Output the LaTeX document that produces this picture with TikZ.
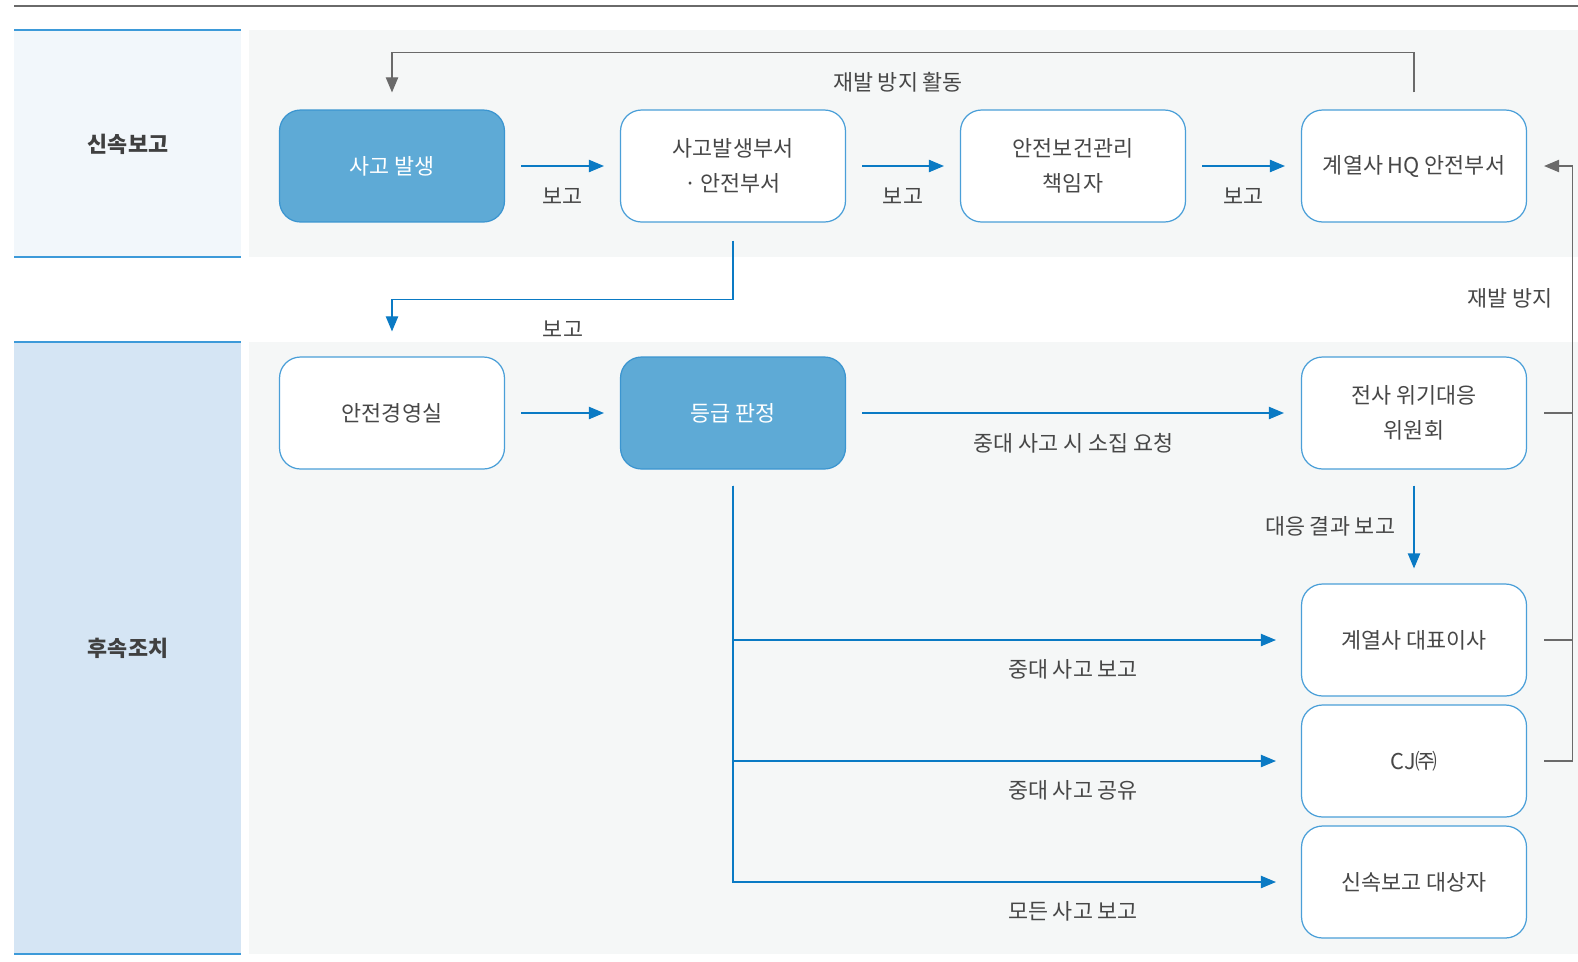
\documentclass[tikz,border=0pt]{standalone}
\usepackage{fontspec}
\setmainfont{Noto Sans CJK KR}
\usetikzlibrary{arrows.meta,positioning,calc}

\definecolor{lineblue}{HTML}{0A7AC4}
\definecolor{boxblue}{HTML}{4A9FD8}
\definecolor{fillblue}{HTML}{5EAAD6}
\definecolor{sideblue}{HTML}{3D9AD9}
\definecolor{txtgray}{HTML}{474747}
\definecolor{backgray}{HTML}{6A6A6A}
\definecolor{panelgray}{HTML}{F5F7F7}
\definecolor{toplabel}{HTML}{F2F7FB}
\definecolor{botlabel}{HTML}{D5E5F4}

\begin{document}
\begin{tikzpicture}[x=0.02cm, y=-0.02cm,
	every node/.style={font=\fontsize{12.4pt}{20pt}\selectfont, text=txtgray},
	box/.style={draw=boxblue, fill=white, line width=0.7pt, rounded corners=0.42cm, minimum width=4.5cm, minimum height=2.24cm, align=center, inner sep=0pt},
	hotbox/.style={box, fill=fillblue, draw=lineblue!80},
	flow/.style={draw=lineblue, line width=0.6pt, -{Triangle[length=8.5pt,width=7pt]}},
	back/.style={draw=backgray, line width=0.6pt},
	lbl/.style={yshift=-0.6cm}]
	\useasboundingbox (0,0) rectangle (1578,961);
	% panels
	\draw[backgray, line width=0.7pt] (14,6) -- (1578,6);
	\fill[toplabel] (14,30) rectangle (241,257);
	\fill[panelgray] (249,30) rectangle (1578,257);
	\fill[botlabel] (14,342) rectangle (241,954);
	\fill[panelgray] (249,342) rectangle (1578,954);
	\draw[sideblue, line width=0.8pt] (14,30) -- (241,30) (14,257) -- (241,257) (14,342) -- (241,342) (14,954) -- (241,954);
	\node[font=\fontsize{12.4pt}{14pt}\selectfont\bfseries, text=black!75] (fast) at (128,144) {신속보고};
	\node[font=\fontsize{12.4pt}{14pt}\selectfont\bfseries, text=black!75] (follow) at (128,648) {후속조치};

	% boxes
	\node[hotbox] (acc) at (392,166) {\textcolor{white}{사고 발생}};
	\node[box] (dept) at (733,166) {사고발생부서\\·\,안전부서};
	\node[box] (chief) at (1073,166) {안전보건관리\\책임자};
	\node[box] (hq) at (1414,166) {계열사 HQ 안전부서};
	\node[box] (safe) at (392,413) {안전경영실};
	\node[hotbox] (grade) at (733,413) {\textcolor{white}{등급 판정}};
	\node[box] (crisis) at (1414,413) {전사 위기대응\\위원회};
	\node[box] (ceo) at (1414,640) {계열사 대표이사};
	\node[box] (cj) at (1414,761) {CJ㈜};
	\node[box] (target) at (1414,882) {신속보고 대상자};

	% quick report
	\draw[flow, shorten <=0.32cm, shorten >=0.32cm] (acc) -- node[lbl] (r1) {보고} (dept);
	\draw[flow, shorten <=0.32cm, shorten >=0.32cm] (dept) -- node[lbl] (r2) {보고} (chief);
	\draw[flow, shorten <=0.32cm, shorten >=0.32cm] (chief) -- node[lbl] (r3) {보고} (hq);
	\draw[back, -{Triangle[length=8.5pt,width=7pt]}] ($(hq.north)+(0,-17)$) -- ++(0,-40) -| ($(acc.north)+(0,-17)$);
	\node (again) at (898,82) {재발 방지 활동};
	\draw[flow] ($(dept.south)+(0,18)$) -- ++(0,59) -| ($(safe.north)+(0,-25)$);
	\node (r4) at (563,329) {보고};

	% follow-up
	\draw[flow, shorten <=0.32cm, shorten >=0.32cm] (safe) -- (grade);
	\draw[flow, shorten <=0.32cm, shorten >=0.34cm] (grade) -- node[lbl] (call) {중대 사고 시 소집 요청} (crisis);
	\draw[flow, shorten <=0.32cm, shorten >=0.3cm] (crisis) -- node[xshift=-1.68cm] (result) {대응 결과 보고} (ceo);
	\foreach \t/\s in {ceo/중대 사고 보고, cj/중대 사고 공유, target/모든 사고 보고} {
		\draw[flow, shorten >=0.5cm] ($(grade.south)+(0,16)$) |- (\t.west);
		\node (lbl\t) at ($(\t.west -| chief)+(0,29)$) {\s};
	}
	\draw[back, -{Triangle[length=8.5pt,width=7pt]}] ($(cj.east)+(17,0)$) -- ++(28,0) coordinate (rb) |- ($(hq.east)+(17,0)$);
	\foreach \n in {crisis,ceo} {\draw[back] ($(\n.east)+(17,0)$) -- (\n.east -| rb);}
	\node (stop) at (1510,298) {재발 방지};
\end{tikzpicture}
\end{document}
